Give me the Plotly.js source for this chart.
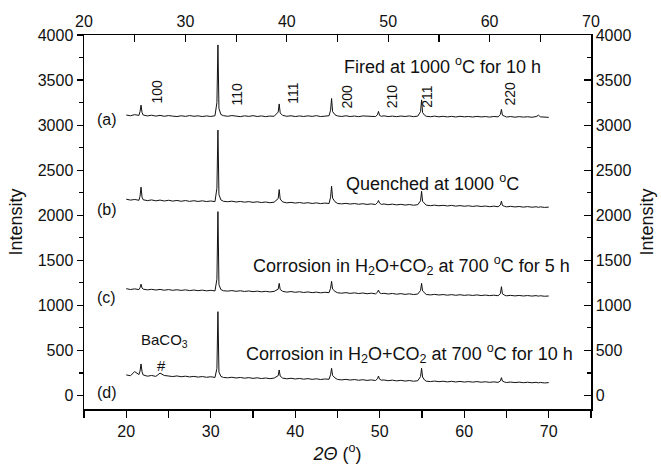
<!DOCTYPE html>
<html>
<head>
<meta charset="utf-8">
<script src="https://cdn.plot.ly/plotly-3.0.1.min.js"></script>
<style>html,body{margin:0;padding:0;background:#fff;}#chart{width:661px;height:465px;}</style>
</head>
<body>
<div id="chart"></div>
<script>
// 2-theta positions (degrees), shared by all four patterns
var twoTheta = [
  20.0, 20.5, 21.0, 21.5, 21.63, 21.75, 21.87, 22.0, 22.5, 23.0,
  23.5, 24.0, 24.5, 25.0, 25.5, 26.0, 26.5, 27.0, 27.5, 28.0,
  28.5, 29.0, 29.5, 30.0, 30.5, 30.73, 30.85, 30.97, 31.2, 31.5,
  32.0, 32.5, 33.0, 33.5, 34.0, 34.5, 35.0, 35.5, 36.0, 36.5,
  37.0, 37.5, 37.98, 38.1, 38.22, 38.5, 39.0, 39.5, 40.0, 40.5,
  41.0, 41.5, 42.0, 42.5, 43.0, 43.5, 44.0, 44.18, 44.3, 44.42,
  44.7, 45.0, 45.5, 46.0, 46.5, 47.0, 47.5, 48.0, 48.5, 49.0,
  49.5, 49.73, 49.85, 49.97, 50.2, 50.5, 51.0, 51.5, 52.0, 52.5,
  53.0, 53.5, 54.0, 54.5, 54.83, 54.95, 55.07, 55.3, 55.5, 56.0,
  56.5, 57.0, 57.5, 58.0, 58.5, 59.0, 59.5, 60.0, 60.5, 61.0,
  61.5, 62.0, 62.5, 63.0, 63.5, 64.0, 64.28, 64.4, 64.52, 64.8,
  65.0, 65.5, 66.0, 66.5, 67.0, 67.5, 68.0, 68.5, 68.8, 69.0,
  69.5, 70.0
];
// (a) Fired at 1000 C for 10 h
var intensityA = [
  3112, 3104, 3116, 3108, 3150, 3222, 3140, 3112, 3102, 3110,
  3100, 3108, 3098, 3106, 3100, 3095, 3104, 3097, 3106, 3098,
  3103, 3095, 3102, 3096, 3104, 3250, 3890, 3185, 3118, 3105,
  3098, 3106, 3100, 3094, 3103, 3097, 3105, 3096, 3102, 3094,
  3101, 3098, 3145, 3235, 3135, 3108, 3098, 3104, 3095, 3102,
  3096, 3103, 3097, 3105, 3095, 3101, 3104, 3165, 3295, 3150,
  3115, 3102, 3096, 3104, 3095, 3101, 3094, 3102, 3097, 3100,
  3095, 3115, 3152, 3108, 3098, 3103, 3095, 3100, 3094, 3101,
  3096, 3102, 3094, 3100, 3150, 3280, 3140, 3110, 3098, 3093,
  3100, 3092, 3098, 3091, 3097, 3090, 3098, 3092, 3096, 3090,
  3097, 3091, 3095, 3089, 3096, 3092, 3118, 3175, 3110, 3098,
  3090, 3095, 3088, 3094, 3089, 3093, 3087, 3095, 3110, 3092,
  3089, 3086
];
// (b) Quenched at 1000 C
var intensityB = [
  2178, 2168, 2175, 2166, 2210, 2312, 2200, 2172, 2162, 2170,
  2160, 2168, 2158, 2166, 2157, 2164, 2155, 2163, 2154, 2161,
  2153, 2160, 2152, 2158, 2151, 2300, 2945, 2230, 2170, 2155,
  2150, 2156, 2147, 2153, 2145, 2151, 2143, 2149, 2141, 2147,
  2139, 2145, 2185, 2285, 2180, 2148, 2137, 2143, 2135, 2141,
  2133, 2139, 2131, 2137, 2129, 2135, 2130, 2200, 2322, 2190,
  2150, 2131, 2126, 2132, 2124, 2130, 2122, 2128, 2120, 2126,
  2119, 2140, 2164, 2135, 2120, 2125, 2117, 2123, 2115, 2121,
  2113, 2119, 2111, 2117, 2160, 2266, 2155, 2125, 2112, 2106,
  2112, 2105, 2110, 2103, 2109, 2101, 2107, 2100, 2105, 2098,
  2104, 2097, 2102, 2095, 2101, 2094, 2115, 2156, 2108, 2098,
  2093, 2099, 2092, 2097, 2090, 2096, 2089, 2094, 2088, 2093,
  2087, 2090
];
// (c) Corrosion in H2O+CO2 at 700 C for 5 h
var intensityC = [
  1185, 1176, 1183, 1175, 1195, 1235, 1192, 1180, 1172, 1178,
  1170, 1177, 1168, 1175, 1167, 1173, 1166, 1172, 1164, 1170,
  1163, 1169, 1161, 1167, 1160, 1290, 2040, 1230, 1175, 1162,
  1158, 1164, 1156, 1162, 1154, 1160, 1152, 1158, 1150, 1156,
  1149, 1155, 1180, 1244, 1176, 1156, 1147, 1153, 1145, 1151,
  1143, 1149, 1141, 1147, 1139, 1145, 1141, 1190, 1266, 1180,
  1155, 1140, 1135, 1141, 1133, 1139, 1131, 1137, 1129, 1135,
  1128, 1145, 1170, 1140, 1130, 1134, 1126, 1132, 1124, 1130,
  1122, 1128, 1120, 1126, 1165, 1244, 1160, 1132, 1121, 1116,
  1122, 1115, 1120, 1113, 1119, 1112, 1118, 1111, 1116, 1110,
  1116, 1109, 1114, 1108, 1113, 1107, 1130, 1207, 1128, 1112,
  1106, 1111, 1105, 1110, 1104, 1109, 1103, 1108, 1102, 1107,
  1101, 1104
];
// (d) Corrosion in H2O+CO2 at 700 C for 10 h
var intensityD = [
  228, 220, 265, 232, 270, 350, 262, 228, 214, 222,
  212, 248, 222, 216, 210, 217, 208, 214, 206, 212,
  204, 210, 202, 208, 200, 300, 930, 260, 212, 200,
  196, 202, 194, 200, 192, 198, 190, 196, 188, 194,
  187, 193, 220, 283, 215, 193, 185, 191, 183, 189,
  181, 187, 179, 185, 177, 183, 180, 230, 302, 222,
  195, 178, 173, 179, 171, 177, 169, 175, 167, 173,
  166, 185, 216, 182, 170, 172, 164, 170, 162, 168,
  160, 166, 158, 164, 210, 302, 205, 172, 159, 154,
  160, 153, 158, 151, 157, 150, 156, 149, 154, 148,
  154, 147, 152, 146, 151, 145, 162, 198, 160, 148,
  144, 149, 143, 148, 142, 147, 141, 146, 140, 145,
  139, 143
];
// reflection labels and their positions
var hklLabels = ["100", "110", "111", "200", "210", "211", "220"];
var hklX = [23.6, 33.1, 39.8, 46.1, 51.4, 55.6, 65.4];
var hklY = [3370, 3350, 3355, 3315, 3315, 3315, 3350];
var curveLabels = ["(a)", "(b)", "(c)", "(d)"];
var curveLabelY = [3065, 2065, 1085, 30];
var conditionTexts = [
  "Fired at 1000 <sup>o</sup>C for 10 h",
  "Quenched at 1000 <sup>o</sup>C",
  "Corrosion in H<sub>2</sub>O+CO<sub>2</sub> at 700 <sup>o</sup>C for 5 h",
  "Corrosion in H<sub>2</sub>O+CO<sub>2</sub> at 700 <sup>o</sup>C for 10 h"
];
var conditionX = [57.4, 56.3, 53.8, 53.5];
var conditionY = [3666, 2368, 1441, 465];

var FONT = "Liberation Sans, Arial, Helvetica, sans-serif";
var lineStyle = {color: "#111", width: 1};
var traces = [intensityA, intensityB, intensityC, intensityD].map(function (ys) {
  return {x: twoTheta, y: ys, type: "scatter", mode: "lines", line: lineStyle,
          xaxis: "x", yaxis: "y", showlegend: false, hoverinfo: "skip"};
});
// carrier for the top and right axes
traces.push({x: [], y: [], type: "scatter", mode: "lines", xaxis: "x2", yaxis: "y2",
             showlegend: false, hoverinfo: "skip"});

var annotations = [];
hklLabels.forEach(function (t, i) {
  annotations.push({text: t, x: hklX[i], y: hklY[i], xref: "x", yref: "y", showarrow: false,
                    textangle: -90, font: {family: FONT, size: 14, color: "#111"}});
});
curveLabels.forEach(function (t, i) {
  annotations.push({text: t, x: 17.7, y: curveLabelY[i], xref: "x", yref: "y", showarrow: false,
                    font: {family: FONT, size: 16, color: "#111"}});
});
conditionTexts.forEach(function (t, i) {
  annotations.push({text: t, x: conditionX[i], y: conditionY[i], xref: "x", yref: "y", showarrow: false,
                    font: {family: FONT, size: 18, color: "#111"}});
});
annotations.push({text: "BaCO<sub>3</sub>", x: 24.5, y: 610, xref: "x", yref: "y", showarrow: false,
                  font: {family: FONT, size: 15, color: "#111"}});
annotations.push({text: "#", x: 24.2, y: 330, xref: "x", yref: "y", showarrow: false,
                  font: {family: FONT, size: 15, color: "#111"}});

var axisCommon = {
  showgrid: false, zeroline: false, showline: true, linecolor: "#000", linewidth: 1.5,
  tickcolor: "#000", tickwidth: 1.2, tickfont: {family: FONT, size: 16, color: "#111"}
};
var layout = {
  width: 661, height: 465,
  margin: {l: 84, r: 70, t: 35, b: 56, pad: 0},
  paper_bgcolor: "#fff", plot_bgcolor: "#fff",
  font: {family: FONT, color: "#111"},
  xaxis: Object.assign({}, axisCommon, {
    range: [15, 75], tick0: 20, dtick: 10, ticks: "outside", ticklen: 7,
    minor: {dtick: 5, tick0: 15, ticks: "outside", ticklen: 7, tickcolor: "#000", tickwidth: 1.2},
    title: {text: "<i>2Θ</i> (<sup>o</sup>)", font: {family: FONT, size: 18, color: "#111"}, standoff: 8}
  }),
  xaxis2: Object.assign({}, axisCommon, {
    overlaying: "x", side: "top", anchor: "y2",
    range: [20, 70], tick0: 20, dtick: 10, ticks: "inside", ticklen: 7,
    minor: {dtick: 5, tick0: 20, ticks: "inside", ticklen: 7, tickcolor: "#000", tickwidth: 1.2}
  }),
  yaxis: Object.assign({}, axisCommon, {
    range: [-150, 4000], tick0: 0, dtick: 500, ticks: "outside", ticklen: 6,
    minor: {dtick: 250, tick0: 0, ticks: "outside", ticklen: 3.5, tickcolor: "#000", tickwidth: 1.2},
    title: {text: "Intensity", font: {family: FONT, size: 18, color: "#111"}, standoff: 10}
  }),
  yaxis2: Object.assign({}, axisCommon, {
    overlaying: "y", side: "right", anchor: "x",
    range: [-150, 4000], tick0: 0, dtick: 500, ticks: "inside", ticklen: 7,
    minor: {dtick: 250, tick0: 0, ticks: "inside", ticklen: 4, tickcolor: "#000", tickwidth: 1.2},
    title: {text: "Intensity", font: {family: FONT, size: 18, color: "#111"}, standoff: 10}
  }),
  annotations: annotations
};
Plotly.newPlot("chart", traces, layout, {displayModeBar: false, staticPlot: true});
</script>
</body>
</html>
